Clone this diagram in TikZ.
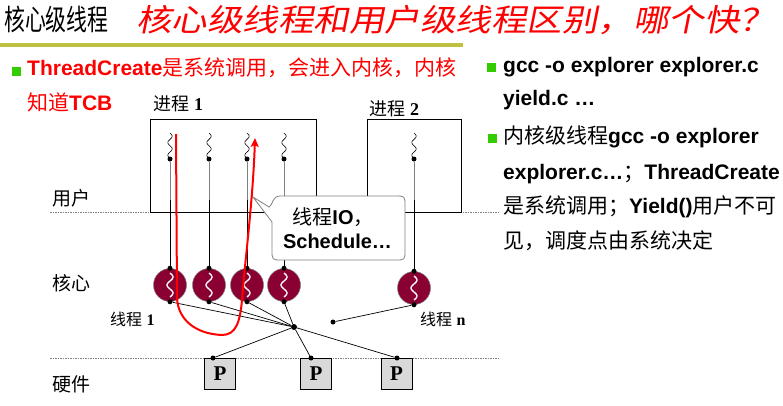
\documentclass[tikz,border=0pt]{standalone}
\usepackage{fontspec}
\setmainfont{Liberation Sans}
\newfontfamily\cjkfont{Noto Sans CJK SC}
\newfontfamily\cjktitle[FakeStretch=0.72]{Noto Sans CJK SC}
\newfontfamily\cjkslant[FakeSlant=0.2,FakeStretch=1.145]{Noto Sans CJK SC}
\newfontfamily\numfont{Liberation Serif}
\usetikzlibrary{arrows.meta}
\definecolor{bulletgreen}{HTML}{33CC00}
\definecolor{barolive}{HTML}{BFBF40}
\definecolor{kthread}{HTML}{8B0033}
\definecolor{pgray}{HTML}{D9D9D9}
\newcommand\zh[1]{{\cjkfont #1}}
\newcommand\num[1]{{\numfont\bfseries #1}}

\tikzset{
  txt/.style={anchor=base west, inner sep=0pt, font=\fontsize{21}{21}\selectfont},
  redtxt/.style={txt, text=red},
  bulletsq/.style={fill=bulletgreen, draw=none, minimum size=9pt, inner sep=0pt},
  lbl/.style={anchor=base west, inner sep=0pt, font=\fontsize{19}{19}\selectfont},
  smalllbl/.style={anchor=base west, inner sep=0pt, font=\fontsize{16}{16}\selectfont},
  dot/.style={circle, fill=black, inner sep=0pt, minimum size=5pt},
  kcircle/.style={circle, fill=kthread, draw=gray, line width=0.5pt, minimum size=33pt, inner sep=0pt},
  pbox/.style={draw, line width=0.8pt, fill=pgray, minimum size=31pt, inner sep=0pt, font=\numfont\bfseries\fontsize{21}{21}\selectfont},
  sep/.style={gray, dash pattern=on 1.5pt off 1pt, line width=0.5pt},
  procbox/.style={draw, line width=0.9pt},
  ulink/.style={gray, line width=0.8pt},
  link/.style={black, line width=0.7pt},
  callout/.style={draw=gray, fill=white, line width=0.8pt},
  redpath/.style={red, line width=2pt, -{Stealth[length=9pt,width=8pt,inset=2pt]}},
}

\begin{document}
\begin{tikzpicture}[x=1pt,y=-1pt]
\useasboundingbox (0,0) rectangle (783,405);

% titles
\node[anchor=base west, inner sep=0pt, font=\fontsize{29}{29}\selectfont\cjktitle] (title) at (4,30) {核心级线程};
\node[anchor=base west, inner sep=0pt, text=red, font=\fontsize{31}{31}\selectfont\cjkslant] (question) at (136,31) {核心级线程和用户级线程区别，哪个快？};
\fill[barolive] (0,43) rectangle (463,47);

% left bullet
\node[bulletsq] (bl) at (16,71) {};
\node[redtxt] (l1) at (27,75) {\textbf{ThreadCreate}\zh{是系统调用，会进入内核，内核}};
\node[redtxt] (l2) at (27,110) {\zh{知道}\textbf{TCB}};

% right bullets
\node[bulletsq] (br1) at (491,67) {};
\node[txt] (r1) at (503,72) {\textbf{gcc -o explorer explorer.c}};
\node[txt] (r2) at (503,105) {\textbf{yield.c …}};
\node[bulletsq] (br2) at (492,138) {};
\node[txt] (r3) at (503,143) {\zh{内核级线程}\textbf{gcc -o explorer}};
\node[txt] (r4) at (503,179) {\textbf{explorer.c…}\zh{；}\textbf{ThreadCreate}};
\node[txt] (r5) at (503,213) {\zh{是系统调用；}\textbf{Yield()}\zh{用户不可}};
\node[txt] (r6) at (503,248) {\zh{见，调度点由系统决定}};

% layer separators and their labels
\draw[sep] (50,212) -- (498,212);
\draw[sep] (50,358) -- (498,358);
\node[lbl] (user) at (52,205.5) {\zh{用户}};
\node[lbl] (kern) at (52,290.5) {\zh{核心}};
\node[lbl] (hw) at (52,391.5) {\zh{硬件}};

% processes
\node[lbl, font=\fontsize{18}{18}\selectfont] (p1lbl) at (153,110.5) {\zh{进程} \num{1}};
\node[lbl, font=\fontsize{18}{18}\selectfont] (p2lbl) at (369,115.5) {\zh{进程} \num{2}};
\draw[procbox] (150,119) rectangle (316,212);
\draw[procbox] (367,119) rectangle (461,212);

% user threads: squiggle above a dot
\foreach \name/\xx in {u1/170, u2/209, u3/247, u4/284, u5/414} {
  \draw[line width=0.6pt] plot[domain=0:1, samples=30, smooth] ({\xx + 2.2*sin(\x*680)}, {133 + 24*\x});
  \node[dot] (\name) at (\xx,159) {};
  \coordinate (\name m) at (\xx,200);
}

% kernel threads
\foreach \name/\xx/\yy in {k1/170/285, k2/209/285, k3/247/285, k4/284/285, k5/414/288} {
  \node[kcircle] (\name) at (\xx,\yy) {};
  \draw[white, line width=1.3pt] plot[domain=0:1, samples=30, smooth] ({\xx + 3*sin(\x*540)}, {\yy - 12 + 24*\x});
  \node[dot] (\name t) at (\name.north) {};
  \node[dot] (\name b) at (\name.south) {};
}

% user thread to kernel thread mapping
\foreach \i in {1,...,5} {
  \draw[ulink] (u\i) -- (u\i m);
  \draw[link] (u\i m) -- (k\i t);
}

% scheduler hub and processors
\node[dot, minimum size=6pt] (J) at (294,327) {};
\node[dot] (D) at (333,322) {};
\node[pbox] (P1) at (220,373.5) {P};
\node[pbox] (P2) at (316,373.5) {P};
\node[pbox] (P3) at (396.5,373.5) {P};
\node[dot] (P1t) at (213,358) {};
\node[dot] (P2t) at (311,358) {};
\node[dot] (P3t) at (397,358) {};
\foreach \i in {1,...,4} { \draw[link] (k\i b) -- (J); }
\foreach \i in {1,2,3} { \draw[link] (J) -- (P\i t); }
\draw[link] (D) -- (k5b);

\node[smalllbl] (th1) at (110,325) {\zh{线程} \num{1}};
\node[smalllbl] (thn) at (420,325) {\zh{线程} \num{n}};

% callout
\coordinate (tip) at (253,197);
\draw[callout] (272,222) -- (tip) -- (269,207) .. controls (273,205) and (272,196) .. (280,196)
  -- (395,196) .. controls (405,196) .. (405,206) -- (405,250) .. controls (405,260) .. (395,260)
  -- (282,260) .. controls (272,260) .. (272,250) -- cycle;
\node[anchor=base, inner sep=0pt, font=\fontsize{20}{20}\selectfont] (c1) at (333,224) {\zh{线程}\textbf{IO}\zh{，}};
\node[anchor=base, inner sep=0pt, font=\fontsize{20}{20}\selectfont] (c2) at (337.5,248) {\textbf{Schedule…}};

% control flow into the kernel and back
\coordinate (rs) at (176,134);
\coordinate (re) at (255,138);
\draw[redpath] (rs) -- (177,298) .. controls (178,320) and (196,334) .. (222,335)
  .. controls (236,335) and (240,322) .. (242,300) .. controls (245,260) and (253,200) .. (re);

\end{tikzpicture}
\end{document}
